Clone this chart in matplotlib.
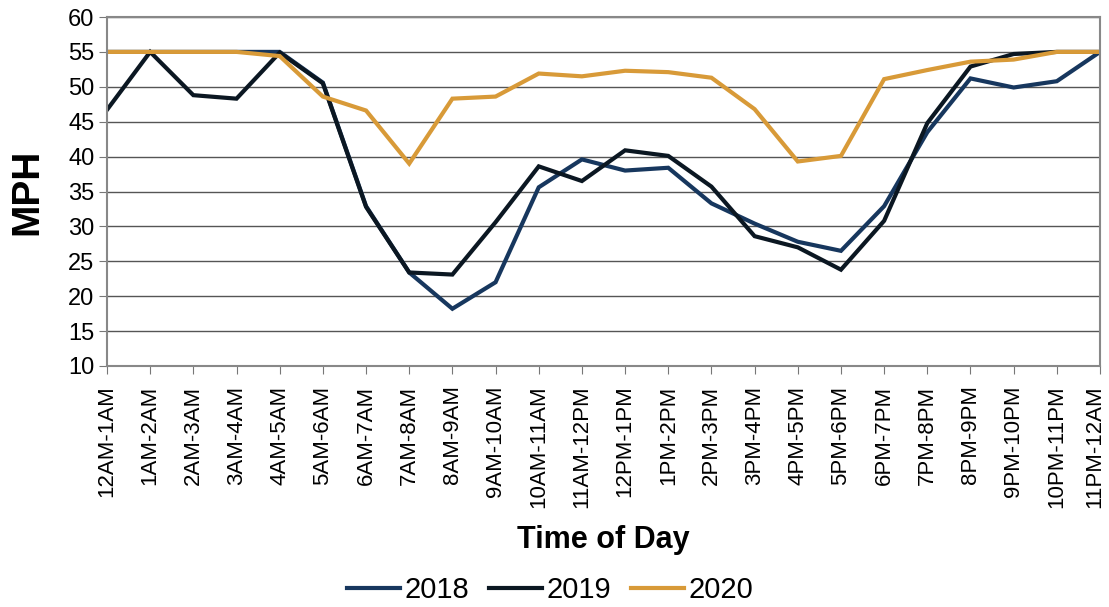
import numpy as np
import matplotlib.pyplot as plt
import matplotlib.transforms as mtransforms

plt.rcParams['font.family'] = ['Liberation Sans', 'DejaVu Sans']

hours = ["12AM-1AM", "1AM-2AM", "2AM-3AM", "3AM-4AM", "4AM-5AM", "5AM-6AM",
         "6AM-7AM", "7AM-8AM", "8AM-9AM", "9AM-10AM", "10AM-11AM", "11AM-12PM",
         "12PM-1PM", "1PM-2PM", "2PM-3PM", "3PM-4PM", "4PM-5PM", "5PM-6PM",
         "6PM-7PM", "7PM-8PM", "8PM-9PM", "9PM-10PM", "10PM-11PM", "11PM-12AM"]

mph_2018 = [55.0, 55.0, 55.0, 55.0, 55.0, 50.6, 32.9, 23.4, 18.2, 22.0, 35.6, 39.6,
            38.0, 38.4, 33.3, 30.4, 27.8, 26.5, 32.9, 43.5, 51.2, 49.9, 50.8, 55.0]
mph_2019 = [46.7, 55.0, 48.8, 48.3, 54.9, 50.5, 32.8, 23.4, 23.1, 30.6, 38.6, 36.5,
            40.9, 40.1, 35.7, 28.6, 27.0, 23.8, 30.8, 44.8, 52.9, 54.7, 55.0, 55.0]
mph_2020 = [55.0, 55.0, 55.0, 55.0, 54.4, 48.6, 46.6, 39.0, 48.3, 48.6, 51.9, 51.5,
            52.3, 52.1, 51.3, 46.8, 39.3, 40.1, 51.1, 52.4, 53.6, 53.9, 55.0, 55.0]

series = [("2018", mph_2018, "#17375e"),
          ("2019", mph_2019, "#0b1722"),
          ("2020", mph_2020, "#d89a38")]

fig = plt.figure(figsize=(11.09, 6.07), dpi=100)
ax = fig.add_axes([107 / 1109, 1 - 366 / 607, 993 / 1109, 349 / 607])

x = np.arange(len(hours))
for name, vals, col in series:
    ax.plot(x, vals, color=col, lw=3, label=name, solid_joinstyle="miter")

ax.set_xlim(0, len(hours) - 1)
ax.set_ylim(10, 60)
ax.set_yticks(range(10, 61, 5))
ax.set_xticks(x)
ax.set_xticklabels(hours, rotation=90, fontsize=16)
ax.tick_params(axis="y", labelsize=17, direction="out", length=6,
               color="#777777", pad=3)
ax.tick_params(axis="x", direction="out", length=6, color="#777777", pad=8)
ax.grid(axis="y", color="#555555", lw=1)
ax.set_axisbelow(True)
for s in ax.spines.values():
    s.set_color("#888888")
    s.set_linewidth(1.5)

# last label sits right at the figure edge; nudge it a few px left
last = ax.get_xticklabels()[-1]
last.set_transform(last.get_transform() +
                   mtransforms.ScaledTranslation(-5 / 100, 0, fig.dpi_scale_trans))

ax.set_ylabel("MPH", fontsize=28, fontweight="bold")
ax.yaxis.set_label_coords(-0.062, 0.5)
ax.set_xlabel("Time of Day", fontsize=22, fontweight="bold", va="center")
ax.xaxis.set_label_coords(0.5, -0.498)

fig.legend(loc="center", bbox_to_anchor=(550 / 1109, 1 - 590 / 607), ncol=3,
           frameon=False, fontsize=21, handlelength=1.8, handletextpad=0.15,
           columnspacing=0.7)

fig.savefig("out.png", dpi=100)
